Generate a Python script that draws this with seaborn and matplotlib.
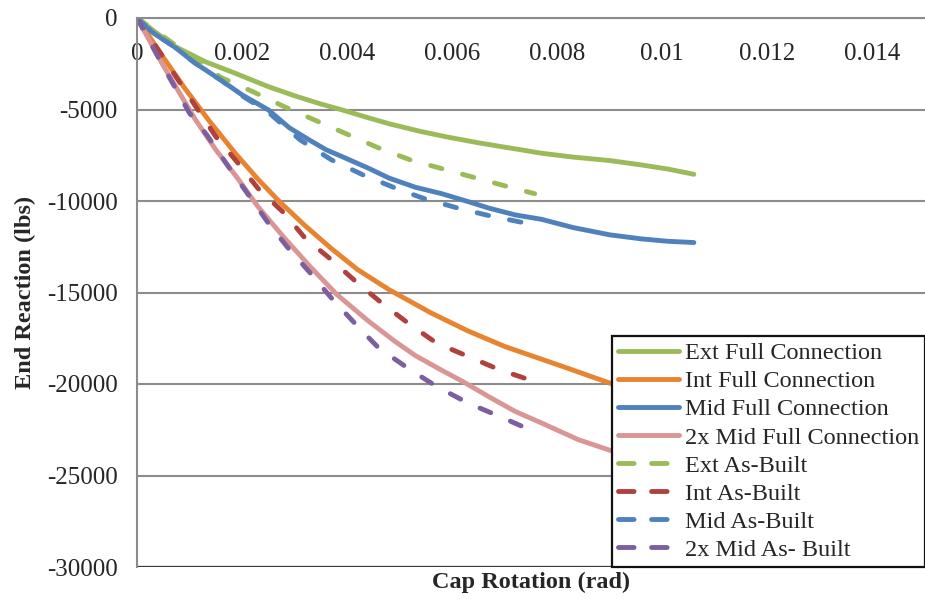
import numpy as np
import pandas as pd
import matplotlib
matplotlib.use("Agg")
import matplotlib.pyplot as plt
from matplotlib.lines import Line2D
import seaborn as sns

# ---- data: cap rotation (rad) vs end reaction (lbs) ----
ext_full_x = [0, 0.00034, 0.00072, 0.0013, 0.00187, 0.0025, 0.0030, 0.0035, 0.0039,
              0.0044, 0.0048, 0.0054, 0.0059, 0.0065, 0.0070, 0.0072, 0.0077, 0.0083,
              0.0090, 0.0096, 0.0101, 0.0106]
ext_full_y = [0, -750, -1550, -2390, -3020, -3750, -4250, -4700, -5020,
              -5450, -5780, -6200, -6500, -6820, -7060, -7150, -7390, -7600,
              -7790, -8030, -8250, -8540]

int_full_x = [0, 0.0005, 0.0009, 0.00136, 0.00187, 0.0023, 0.0027, 0.0032, 0.0037,
              0.0042, 0.0048, 0.0056, 0.0063, 0.0070, 0.0081, 0.0090, 0.0106]
int_full_y = [0, -2150, -3800, -5570, -7390, -8800, -10000, -11350, -12600,
              -13750, -14850, -16120, -17100, -17950, -19040, -19950, -21300]

mid_full_x = [0, 0.0003, 0.0007, 0.0011, 0.0016, 0.002, 0.0025, 0.0029, 0.0033, 0.0036,
              0.0039, 0.0044, 0.0048, 0.0053, 0.0058, 0.0063, 0.0067, 0.0072, 0.0077,
              0.0083, 0.0090, 0.0096, 0.0101, 0.0106]
mid_full_y = [0, -800, -1550, -2450, -3400, -4200, -5020, -6000, -6700, -7200,
              -7570, -8200, -8750, -9250, -9600, -10030, -10390, -10760, -11000,
              -11450, -11850, -12070, -12200, -12270]

mid2x_full_x = [0, 0.0005, 0.0011, 0.0015, 0.0019, 0.0023, 0.0028, 0.0033, 0.0038,
                0.0044, 0.0049, 0.0053, 0.0058, 0.0062, 0.0067, 0.0072, 0.0077,
                0.0084, 0.0090, 0.0098, 0.0106]
mid2x_full_y = [0, -2600, -5500, -7200, -8700, -10300, -12000, -13600, -15100,
                -16550, -17650, -18450, -19250, -19860, -20700, -21500, -22130,
                -23040, -23620, -24200, -24700]

ext_ab_x = [0, 0.0005, 0.001, 0.0016, 0.0022, 0.0028, 0.0034, 0.0040, 0.0046,
            0.0052, 0.0058, 0.0064, 0.0070, 0.00757]
ext_ab_y = [0, -1000, -2050, -3250, -4020, -4840, -5600, -6350, -7100,
            -7750, -8230, -8700, -9170, -9600]

int_ab_x = [0, 0.0005, 0.0009, 0.0015, 0.0019, 0.0023, 0.0028, 0.0032, 0.0037, 0.0042,
            0.0047, 0.0052, 0.0057, 0.0063, 0.0069, 0.0075, 0.00758]
int_ab_y = [0, -2150, -3900, -6480, -7850, -9300, -10660, -12030, -13210, -14490,
            -15670, -16760, -17760, -18490, -19220, -19800, -19950]

mid_ab_x = [0, 0.0003, 0.0007, 0.0011, 0.0016, 0.002, 0.0025, 0.0028, 0.0031, 0.0037,
            0.0043, 0.0050, 0.0055, 0.0061, 0.0067, 0.0073, 0.00747]
mid_ab_y = [0, -800, -1550, -2450, -3400, -4250, -5150, -5900, -6650, -7750,
            -8570, -9390, -9900, -10380, -10800, -11150, -11210]

mid2x_ab_x = [0, 0.0005, 0.001, 0.00133, 0.00174, 0.00212, 0.0025, 0.00288, 0.0033,
              0.0037, 0.0042, 0.0046, 0.0052, 0.0057, 0.0063, 0.0069, 0.0074, 0.00754]
mid2x_ab_y = [0, -2650, -5200, -6390, -8120, -9660, -11210, -12580, -13940,
              -15300, -16850, -18030, -19220, -20130, -21040, -21770, -22400, -22500]

series_names = ["Ext Full Connection", "Int Full Connection", "Mid Full Connection",
                "2x Mid Full Connection", "Ext As-Built", "Int As-Built",
                "Mid As-Built", "2x Mid As- Built"]

x_ticks = [0, 0.002, 0.004, 0.006, 0.008, 0.010, 0.012, 0.014]
x_tick_labels = ["0", "0.002", "0.004", "0.006", "0.008", "0.01", "0.012", "0.014"]
y_ticks = [0, -5000, -10000, -15000, -20000, -25000, -30000]
y_tick_labels = ["0", "-5000", "-10000", "-15000", "-20000", "-25000", "-30000"]

# ---- styling ----
sns.set_style("white")
plt.rcParams["font.family"] = ["Liberation Serif", "DejaVu Serif"]

colors = ["#9BBB59", "#E8832F", "#4F81BD", "#D99694",
          "#9BBB59", "#B0413E", "#4F81BD", "#7B5FA0"]
solid = "-"
dashed = (0, (2.4, 4.4))
styles = [solid] * 4 + [dashed] * 4
LW = 3.5
FS_TICK = 18
FS_LEG = 17.5
FS_LAB = 17.5

data = [(ext_full_x, ext_full_y), (int_full_x, int_full_y),
        (mid_full_x, mid_full_y), (mid2x_full_x, mid2x_full_y),
        (ext_ab_x, ext_ab_y), (int_ab_x, int_ab_y),
        (mid_ab_x, mid_ab_y), (mid2x_ab_x, mid2x_ab_y)]

W, H = 925, 599
fig = plt.figure(figsize=(W / 100, H / 100), dpi=100)
ax = fig.add_axes([137 / W, 1 - 567 / H, (925 - 137) / W, (567 - 18) / H])

for name, (xs, ys), c, ls in zip(series_names, data, colors, styles):
    df = pd.DataFrame({"rotation": xs, "reaction": ys})
    sns.lineplot(data=df, x="rotation", y="reaction", ax=ax, color=c,
                 linestyle=ls, linewidth=LW, sort=False, estimator=None,
                 solid_capstyle="round", dash_capstyle="round",
                 solid_joinstyle="round", legend=False)

ax.set_xlim(0, 0.015)
ax.set_ylim(-30000, 0)
ax.set_xticks(x_ticks)
ax.set_xticklabels(x_tick_labels)
ax.set_yticks(y_ticks)
ax.set_yticklabels(y_tick_labels)

grid_c = "#8C8C8C"
ax.yaxis.grid(True, color=grid_c, linewidth=1.5)
ax.xaxis.grid(False)
ax.set_axisbelow(True)

for s in ["top", "right"]:
    ax.spines[s].set_visible(False)
ax.spines["bottom"].set_position(("data", 0))
ax.spines["bottom"].set_color(grid_c)
ax.spines["bottom"].set_linewidth(1.5)
ax.spines["left"].set_color(grid_c)
ax.spines["left"].set_linewidth(1.5)
ax.axhline(-30000, color="#3A3A3A", linewidth=1.6, zorder=1)

ax.tick_params(axis="x", direction="out", length=7, width=1.5, color=grid_c,
               labelsize=FS_TICK, pad=11)
ax.tick_params(axis="y", direction="out", length=8, width=1.5, color=grid_c,
               labelsize=FS_TICK, pad=6)

ax.set_xlabel("Cap Rotation (rad)", fontsize=FS_LAB, fontweight="bold")
ax.xaxis.set_label_coords(0.5, -0.008)
ax.xaxis.label.set_va("top")
ax.set_ylabel("End Reaction (lbs)", fontsize=FS_LAB, fontweight="bold")
ax.yaxis.set_label_coords(-0.128, 0.5)

handles = []
for name, c, ls in zip(series_names, colors, styles):
    hls = solid if ls == solid else (0, (3.2, 3.6))
    handles.append(Line2D([0], [0], color=c, linewidth=LW, linestyle=hls,
                          solid_capstyle="round", dash_capstyle="round"))
leg = ax.legend(handles, series_names, loc="lower right", bbox_to_anchor=(1.0, 0.0),
                borderaxespad=0.0, fontsize=FS_LEG, frameon=True, fancybox=False,
                handlelength=2.5, handletextpad=0.25, labelspacing=0.25,
                borderpad=0.25)
leg.get_frame().set_edgecolor("#111111")
leg.get_frame().set_linewidth(1.6)
leg.get_frame().set_alpha(1.0)

fig.savefig("out.png", dpi=100)
